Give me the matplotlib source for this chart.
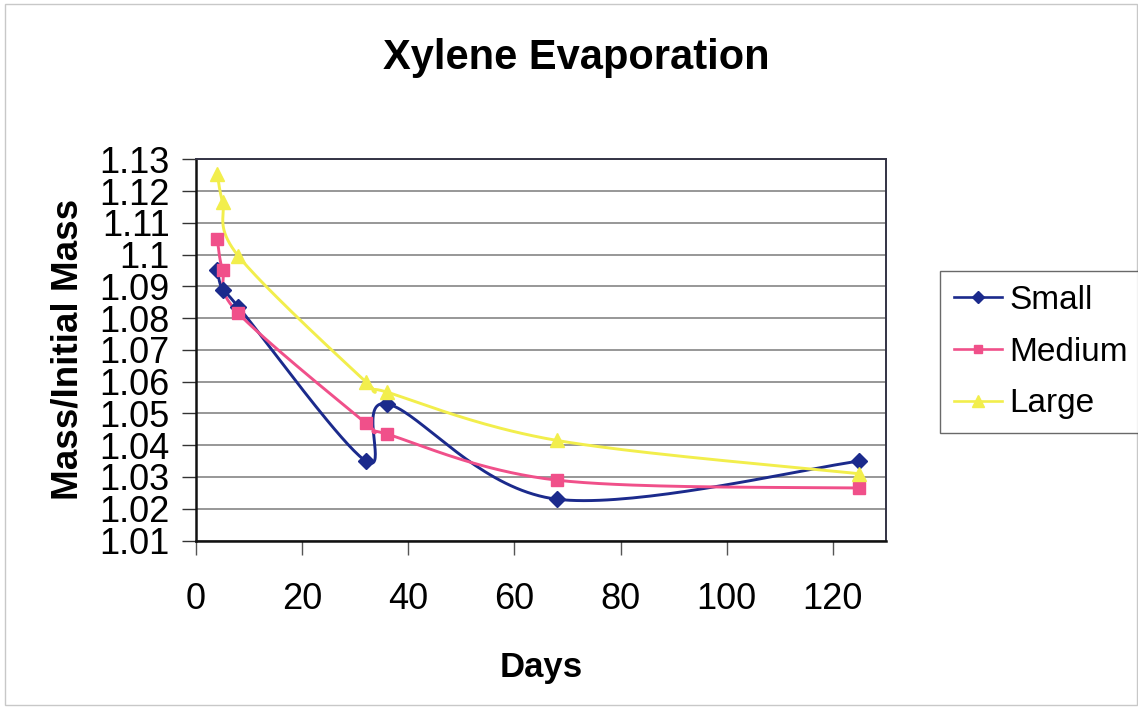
import numpy as np
import matplotlib
matplotlib.use("Agg")
import matplotlib.pyplot as plt
from matplotlib.lines import Line2D
from matplotlib.patches import Rectangle
from matplotlib.ticker import MultipleLocator, FuncFormatter

plt.rcParams["font.family"] = ["Liberation Sans", "DejaVu Sans"]

days = [4, 5, 8, 32, 36, 68, 125]
small = [1.095, 1.089, 1.0835, 1.035, 1.053, 1.023, 1.035]
medium = [1.105, 1.095, 1.0815, 1.047, 1.0435, 1.029, 1.0265]
large = [1.1255, 1.1165, 1.0995, 1.060, 1.0567, 1.0415, 1.031]

series = [
    ("Small", small, "#1b2a8c", "D", 8),
    ("Medium", medium, "#f0508a", "s", 8),
    ("Large", large, "#f2ee4c", "^", 10),
]


def smooth(x, y, n=40):
    # Excel-style smoothed line: Catmull-Rom segments drawn as cubic Beziers
    p = np.column_stack([x, y]).astype(float)
    ext = np.vstack([p[0], p, p[-1]])
    t = np.linspace(0, 1, n)[:, None]
    out = [p[:1]]
    for i in range(len(p) - 1):
        p0, p1, p2, p3 = ext[i], ext[i + 1], ext[i + 2], ext[i + 3]
        c1 = p1 + (p2 - p0) / 6
        c2 = p2 - (p3 - p1) / 6
        seg = ((1 - t) ** 3) * p1 + 3 * ((1 - t) ** 2) * t * c1 \
            + 3 * (1 - t) * t ** 2 * c2 + t ** 3 * p2
        out.append(seg[1:])
    pts = np.vstack(out)
    return pts[:, 0], pts[:, 1]


fig = plt.figure(figsize=(11.38, 7.09), dpi=100)
ax = fig.add_axes([196 / 1138, 1 - 540.5 / 709, 690 / 1138, 381.2 / 709])

handles = []
for name, vals, color, marker, ms in series:
    sx, sy = smooth(days, vals)
    ax.plot(sx, sy, color=color, lw=2.1, zorder=3)
    ax.plot(days, vals, ls="none", marker=marker, ms=ms, color=color,
            mec=color, zorder=4)
    handles.append(Line2D([], [], color=color, lw=1.9, marker=marker,
                          ms=ms * 0.8, mec=color, label=name))

ax.set_xlim(0, 130)
ax.set_ylim(1.01, 1.13)
ax.xaxis.set_major_locator(MultipleLocator(20))
ax.yaxis.set_major_locator(MultipleLocator(0.01))
ax.yaxis.set_major_formatter(FuncFormatter(lambda v, _: f"{round(v, 2):g}"))
ax.tick_params(axis="x", labelsize=26, length=10, width=1, color="#555555",
               pad=20)
ax.tick_params(axis="y", labelsize=26, length=10, width=1, color="#333333",
               pad=9)
ax.grid(axis="y", color="#7a7a7a", lw=1.1)
ax.set_axisbelow(True)
for side in ["left", "bottom"]:
    ax.spines[side].set_color("#111111")
    ax.spines[side].set_linewidth(1.8)
for side in ["top", "right"]:
    ax.spines[side].set_color("#333344")
    ax.spines[side].set_linewidth(1.4)

ax.set_xlabel("Days", fontsize=25, fontweight="bold", labelpad=24)
ax.set_ylabel("Mass/Initial Mass", fontsize=26.5, fontweight="bold",
              labelpad=10)
fig.text(576 / 1138, 1 - 58 / 709, "Xylene Evaporation", fontsize=30,
         fontweight="bold", ha="center", va="center")

leg = fig.legend(handles=handles, loc="upper left",
                 bbox_to_anchor=(940 / 1138, 1 - 271 / 709), fontsize=24,
                 frameon=True, fancybox=False, handlelength=1.45,
                 handletextpad=0.2, labelspacing=0.62, borderpad=0.42,
                 borderaxespad=0)
leg.get_frame().set_edgecolor("#444444")
leg.get_frame().set_linewidth(1.0)

fig.patches.append(Rectangle((0.004, 0.006), 0.995, 0.988,
                             transform=fig.transFigure, fill=False,
                             edgecolor="#c8c8c8", lw=1.0))

fig.savefig("out.png", dpi=100)
